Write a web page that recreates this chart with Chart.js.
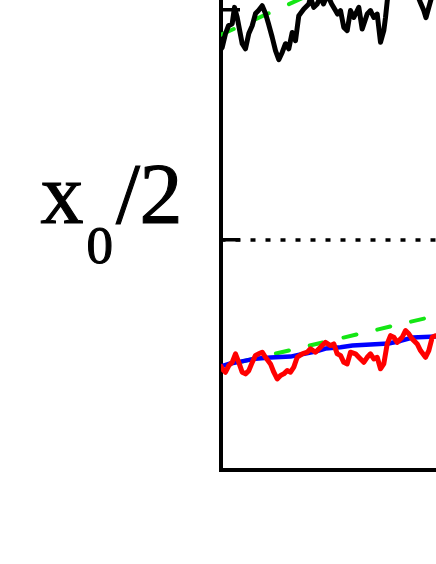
<!DOCTYPE html>
<html><head><meta charset="utf-8">
<script src="https://cdn.jsdelivr.net/npm/chart.js@4"></script>
<style>html,body{margin:0;padding:0;background:#fff;overflow:hidden}</style>
</head><body>
<canvas id="c" width="436" height="564" style="display:block;width:436px;height:564px"></canvas>
<script>
// time axis (arbitrary units) and values in units of x0/2
const blackX = [0,1.2,4.5,7.5,11.2,13.5,16.2,21.2,24.5,27.8,31.2,34.5,37.5,41.2,44.5,47.5,51.2,54.5,57.8,61.2,64.5,67.8,71.2,74.5,77.8,82.8,87.8,89.5,92.8,96.2,99.5,102.5,106.5,110.5,114.5,116.5,119.5,122.8,126.2,129.5,132.8,137.8,141.2,146.2,149.5,152.8,156.2,159.5,162.8,164.5,166.5,171.5,177.5,183.5,189.5,195.5,199.5,202.8,205,207.8,210.5,215.5];
const blackY = [1.83,1.837,1.897,1.931,1.940,2.011,1.967,1.853,1.831,1.897,1.931,1.984,1.997,2.018,1.984,1.940,1.881,1.823,1.784,1.815,1.853,1.831,1.902,1.866,1.975,2.004,2.026,2.053,2.011,2.026,2.057,2.026,2.066,2.027,1.997,1.982,1.997,1.924,1.910,1.997,1.967,2.011,1.917,1.982,1.997,1.967,1.982,1.859,1.910,1.967,2.049,2.105,2.083,2.149,2.118,2.075,2.031,1.997,1.966,2.011,2.053,2.092];
const redX = [0,1.2,4.5,7.8,11.2,14.5,17.8,21.2,24.5,27.8,31.2,34.5,37.8,41.2,44.5,49.5,52.8,56.2,59.5,62.8,66.2,69.5,72.8,76.2,81.2,86.2,89.5,94.5,99.5,104.5,109.5,112.8,116.2,119.5,122.8,126.2,129.5,134.5,137.8,142.8,146.2,149.5,152.8,156.2,159.5,162.8,166.2,169.5,172.8,176.2,181.2,184.5,187.8,191.2,196.2,199.5,204.5,207.8,211.2,214.5,215.5];
const redY = [0.450,0.440,0.425,0.454,0.468,0.505,0.468,0.425,0.418,0.432,0.468,0.498,0.505,0.512,0.490,0.461,0.425,0.396,0.411,0.418,0.432,0.425,0.447,0.490,0.505,0.512,0.527,0.512,0.534,0.555,0.541,0.548,0.505,0.498,0.468,0.461,0.512,0.505,0.490,0.468,0.490,0.505,0.483,0.490,0.440,0.461,0.548,0.584,0.577,0.555,0.577,0.606,0.592,0.570,0.548,0.519,0.490,0.519,0.577,0.584,0.584];
const blueX = [0,9.5,19.5,34.5,49.5,69.5,79.5,94.5,104.5,119.5,131.5,149.5,167.5,179.5,191.5,215.5];
const blueY = [0.450,0.463,0.471,0.484,0.489,0.493,0.502,0.515,0.528,0.534,0.541,0.545,0.550,0.561,0.576,0.580];
const greenUpX = [0,215.5];
const greenUpY = [1.892,2.314];
const greenLoX = [0,215.5];
const greenLoY = [0.450,0.671];
const refX = [0,215];
const refY = [1,1];
const yTicks = [1,2];
const yLabelMain = 'x', yLabelSub = '0', yLabelSlash = '/', yLabelTwo = '2';

const pts = (xs, ys) => xs.map((x, i) => ({x, y: ys[i]}));

const labelPlugin = {
  id: 'ylabel',
  afterDraw(chart) {
    const ctx = chart.ctx;
    const y1 = chart.scales.y.getPixelForValue(yTicks[0]);
    ctx.save();
    ctx.fillStyle = '#000';
    ctx.strokeStyle = '#000';
    ctx.lineWidth = 1.1;
    ctx.textBaseline = 'alphabetic';
    ctx.textAlign = 'left';
    const put = (t, x, y, size) => {
      ctx.font = size + 'px "Liberation Serif"';
      ctx.fillText(t, x, y);
      ctx.strokeText(t, x, y);
    };
    put(yLabelMain, 40.5, y1 - 17, 86);
    put(yLabelSub, 86.5, y1 + 23, 53);
    put(yLabelSlash, 116, y1 - 17, 86);
    put(yLabelTwo, 139.5, y1 - 17, 86);
    ctx.restore();
  }
};

const green = '#14e614';
new Chart(document.getElementById('c'), {
  type: 'line',
  data: {
    datasets: [
      {data: pts(blackX, blackY), borderColor: '#000', borderWidth: 5},
      {data: pts(redX, redY), borderColor: '#ff0000', borderWidth: 5},
      {data: pts(blueX, blueY), borderColor: '#0000ff', borderWidth: 4.5},
      {data: pts(greenUpX, greenUpY), borderColor: green, borderWidth: 4, borderDash: [16, 22.3], borderDashOffset: 2.05},
      {data: pts(greenLoX, greenLoY), borderColor: green, borderWidth: 4, borderDash: [13.3, 21.4], borderDashOffset: 12.95},
      {data: pts(refX, refY), borderColor: '#000', borderWidth: 3.4, borderDash: [5, 10], borderDashOffset: 0.5, borderCapStyle: 'butt'}
    ]
  },
  options: {
    responsive: false,
    animation: false,
    devicePixelRatio: 1,
    layout: {padding: 0},
    plugins: {legend: {display: false}, tooltip: {enabled: false}},
    elements: {
      point: {radius: 0, hoverRadius: 0},
      line: {tension: 0, borderJoinStyle: 'round', borderCapStyle: 'round', fill: false}
    },
    scales: {
      x: {
        type: 'linear', min: 0, max: 215,
        ticks: {display: false},
        grid: {drawOnChartArea: false, drawTicks: false, color: '#000'},
        border: {display: true, color: '#000', width: 4},
        afterFit(s) { s.height = 94; }
      },
      y: {
        type: 'linear', min: 0, max: 2.043,
        ticks: {display: false},
        grid: {drawOnChartArea: false, drawTicks: true, tickLength: -19, color: '#000', lineWidth: 3.5},
        border: {display: true, color: '#000', width: 4},
        afterBuildTicks(s) { s.ticks = yTicks.map(v => ({value: v})); },
        afterFit(s) { s.width = 221; }
      }
    }
  },
  plugins: [labelPlugin]
});
</script>
</body></html>
